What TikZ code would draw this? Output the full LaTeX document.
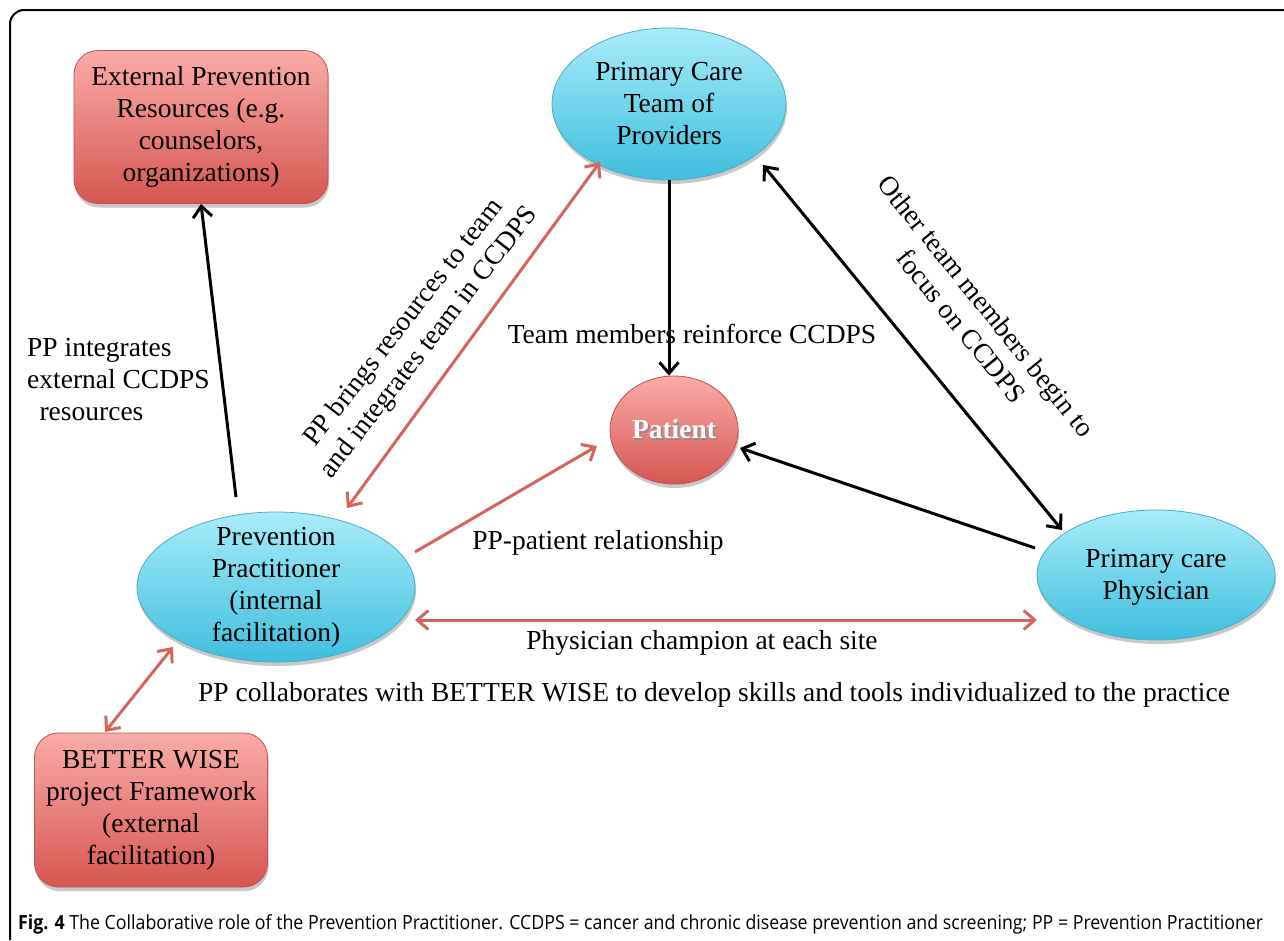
\documentclass[tikz,border=0pt]{standalone}
\usepackage{fontspec}
\setmainfont{Liberation Serif}
\newfontfamily\capfont{Open Sans}
\usetikzlibrary{arrows.meta,shapes.geometric,shadows,calc}
\definecolor{redtop}{RGB}{250,172,168}
\definecolor{redbot}{RGB}{214,86,80}
\definecolor{redbrd}{RGB}{192,80,77}
\definecolor{bluetop}{RGB}{168,236,250}
\definecolor{bluebot}{RGB}{62,190,222}
\definecolor{bluebrd}{RGB}{75,172,198}
\definecolor{redarr}{RGB}{212,100,92}
\tikzset{
  vtip/.tip={Straight Barb[length=11pt, width=19pt]},
  txt/.style={font=\fontsize{27.5}{32}\selectfont, align=center, inner sep=0pt},
  softshadow/.style={drop shadow={shadow xshift=1pt, shadow yshift=-4pt, opacity=0.3, fill=black!70}},
  redbox/.style={draw=redbrd, line width=0.8pt, rounded corners=24pt, top color=redtop, bottom color=redbot, softshadow},
  blueell/.style={ellipse, draw=bluebrd, line width=0.8pt, top color=bluetop, bottom color=bluebot, inner sep=0pt, softshadow},
  redell/.style={ellipse, draw=redbrd, line width=0.8pt, top color=redtop, bottom color=redbot, inner sep=0pt, softshadow},
  blk/.style={draw=black, line width=3pt, -{vtip}},
  blkdbl/.style={draw=black, line width=3pt, {vtip}-{vtip}},
  redarrow/.style={draw=redarr, line width=3pt, -{vtip}},
  reddbl/.style={draw=redarr, line width=3pt, {vtip}-{vtip}},
}
\begin{document}
\begin{tikzpicture}[x=1pt, y=-1pt]
\useasboundingbox (0,0) rectangle (1284,940);
\fill[white] (0,0) rectangle (1284,940);
\draw[line width=2pt, rounded corners=14pt] (10,940) -- (10,10) -- (1284,10);

% nodes
\node[redbox, minimum width=254pt, minimum height=153pt, txt] (ext) at (201,127)
  {External Prevention\\Resources (e.g.\\counselors,\\organizations)};
\node[redbox, minimum width=233pt, minimum height=154pt, txt] (bw) at (151,810)
  {BETTER WISE\\project Framework\\(external\\facilitation)};
\node[blueell, minimum width=234pt, minimum height=152pt] (team) at (669,104) {};
\node[txt] (teamtxt) at (669,104) {Primary Care\\Team of\\Providers};
\node[blueell, minimum width=278pt, minimum height=150pt] (pp) at (276,587) {};
\node[txt] (pptxt) at (276,587) {Prevention\\Practitioner\\(internal\\facilitation)};
\node[blueell, minimum width=238pt, minimum height=130pt] (phys) at (1156,575) {};
\node[txt] (phystxt) at (1156,577) {Primary care\\Physician};
\node[redell, minimum width=128pt, minimum height=108pt] (patient) at (674,430) {};
\node[txt, text=black!45, font=\fontsize{27.5}{32}\selectfont\bfseries] (patsh) at (675.5,431.5) {Patient};
\node[txt, text=white, font=\fontsize{27.5}{32}\selectfont\bfseries] (pattxt) at (674,429) {Patient};

% connectors
\draw[blk] ($(pp.center)+(-40,-90)$) -- (ext.south);
\draw[reddbl] ($(pp.center)+(71,-79)$) -- ($(team.center)+(-69,58)$);
\draw[blk] (team.south) -- (team.south |- patient.north);
\draw[blkdbl] ($(team.center)+(94,61)$) -- ($(phys.center)+(-94,-45)$);
\draw[blk] ($(phys.center)+(-121,-27)$) -- ($(patient.center)+(66,18)$);
\draw[redarrow] ($(pp.center)+(139,-35)$) -- ($(patient.center)+(-77,16)$);
\draw[reddbl] ($(pp.center)+(139,33)$) -- ($(phys.center)+(-119,45)$);
\draw[reddbl] ($(pp.center)+(-103,60)$) -- ($(bw.center)+(-46,-78)$);

% labels
\node[txt, align=left, anchor=north west] (l1) at (27,338)
  {PP integrates\\external CCDPS\\\hspace{0.45em}resources};
\node[txt, rotate=52] (l2) at (417,333)
  {PP brings resources to team\\and integrates team in CCDPS};
\node[txt] (l3) at (692,334) {Team members reinforce CCDPS};
\node[txt, rotate=-51] (l4) at (974,316)
  {Other team members begin to\\focus on CCDPS};
\node[txt] (l5) at (598,543) {PP-patient relationship};
\node[txt] (l6) at (702,643) {Physician champion at each site};
\node[txt] (l7) at (714,695) {PP collaborates with BETTER WISE to develop skills and tools individualized to the practice};

% caption
\node[anchor=base west, inner sep=0pt] (cap) at (18,929)
  {\resizebox{1245pt}{\height}{\capfont\fontsize{19.5}{22}\selectfont\textbf{Fig. 4} The Collaborative role of the Prevention Practitioner. CCDPS = cancer and chronic disease prevention and screening; PP = Prevention Practitioner}};
\end{tikzpicture}
\end{document}
